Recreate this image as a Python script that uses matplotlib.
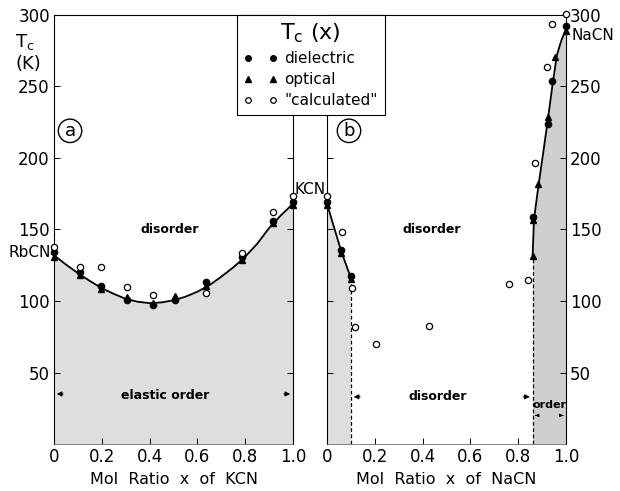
import matplotlib as mpl

mpl.use('Agg')
import matplotlib.pyplot as plt
from matplotlib.lines import Line2D

# ---- data ----
# panel (a): Rb(1-x)K(x)CN
kcn_x = [0.0, 0.107, 0.198, 0.307, 0.414, 0.505, 0.637, 0.787, 0.916, 1.0]
kcn_diel = [134, 120, 110.5, 100.5, 97, 101, 113, 130.5, 156, 169.5]
kcn_opt = [131, 118, 108.5, 103, 98.5, 103.5, 110.5, 129, 154.5, 167]
kcn_calc_x = [0.0, 0.107, 0.198, 0.307, 0.414, 0.637, 0.787, 0.916, 1.0]
kcn_calc = [137.5, 123.5, 123.5, 110, 104.5, 105.5, 133.5, 162, 173.5]
kcn_curve_x = [0.0, 0.05, 0.1, 0.15, 0.2, 0.25, 0.3, 0.35, 0.4, 0.45, 0.5,
               0.55, 0.6, 0.65, 0.7, 0.75, 0.8, 0.85, 0.9, 0.95, 1.0]
kcn_curve_y = [132, 125.5, 119.5, 114, 109, 105, 101.5, 99.5, 98.5, 99, 100.5,
               103, 106.5, 111, 117, 123.5, 131, 140, 151, 160, 168]

# panel (b): K(1-x)Na(x)CN
nacn_diel_x = [0.0, 0.06, 0.099, 0.864, 0.923, 0.943, 1.0]
nacn_diel = [169.5, 135.5, 117.5, 159, 223.5, 253.5, 292]
nacn_opt_x = [0.0, 0.06, 0.099, 0.862, 0.864, 0.884, 0.923, 0.954, 1.0]
nacn_opt = [167, 133.5, 115.5, 131.5, 156.5, 181.5, 229, 270.5, 289]
nacn_calc_x = [0.0, 0.063, 0.105, 0.116, 0.204, 0.425, 0.762, 0.84, 0.87, 0.919,
               0.943, 1.0]
nacn_calc = [173.5, 148, 109, 81.5, 70, 82.5, 112, 114.5, 196.5, 263.5, 293.5, 301]
low_curve_x = [0.0, 0.06, 0.099]
low_curve_y = [168, 134.5, 116.5]
high_curve_x = [0.86, 0.866, 0.885, 0.905, 0.925, 0.945, 0.962, 0.98, 1.0]
high_curve_y = [130, 157, 181, 204, 228, 253, 272, 282, 290]

xticks = [0, 0.2, 0.4, 0.6, 0.8, 1.0]
xticklabels = ['0', '0.2', '0.4', '0.6', '0.8', '1.0']
yticks = [50, 100, 150, 200, 250, 300]

W, H = 620, 491
fig = plt.figure(figsize=(W / 100, H / 100), dpi=100)
plt.rcParams['font.family'] = ['DejaVu Sans']


def px_box(x0, y0, x1, y1):
    return [x0 / W, 1 - y1 / H, (x1 - x0) / W, (y1 - y0) / H]


ax1 = fig.add_axes(px_box(54, 15, 293, 444))
ax2 = fig.add_axes(px_box(327, 15, 566, 444))

mk = dict(linestyle='none', color='black', clip_on=False, zorder=5)
for ax in (ax1, ax2):
    ax.set_xlim(0, 1.0)
    ax.set_ylim(0, 300)
    ax.set_xticks(xticks)
    ax.set_xticklabels(xticklabels, fontsize=12)
    ax.set_yticks(yticks)
    ax.set_yticklabels([str(v) for v in yticks], fontsize=12)
    ax.tick_params(direction='in', left=True, right=True, top=False,
                   length=4, width=0.7, pad=3)
    for s in ax.spines.values():
        s.set_linewidth(0.8)
    ax.spines['bottom'].set_linewidth(0.5)
    ax.spines['bottom'].set_color('#555555')

ax2.tick_params(labelleft=False, labelright=True)

# panel (a)
ax1.fill_between(kcn_curve_x, 0, kcn_curve_y, color='#dedede', lw=0)
ax1.plot(kcn_curve_x, kcn_curve_y, color='black', lw=1.3)
ax1.plot(kcn_x, kcn_diel, marker='o', ms=4.5, **mk)
ax1.plot(kcn_x, kcn_opt, marker='^', ms=4.5, **mk)
ax1.plot(kcn_calc_x, kcn_calc, marker='o', ms=4.5, mfc='white', mew=0.9, **mk)

ax1.text(0.485, 150, 'disorder', ha='center', va='center', fontsize=9,
         fontweight='bold')
ax1.text(0.467, 34, 'elastic order', ha='center', va='center', fontsize=9,
         fontweight='bold')
ax1.annotate('', xy=(0.0, 35), xytext=(0.05, 35),
             arrowprops=dict(arrowstyle='-|>', color='black', lw=0.8,
                             mutation_scale=7))
ax1.annotate('', xy=(1.0, 35), xytext=(0.95, 35),
             arrowprops=dict(arrowstyle='-|>', color='black', lw=0.8,
                             mutation_scale=7))
ax1.text(0.067, 219, 'a', ha='center', va='center', fontsize=13,
         bbox=dict(boxstyle='circle,pad=0.15', fc='white', ec='black', lw=1))
ax1.text(-0.015, 134, 'RbCN', ha='right', va='center', fontsize=11,
         clip_on=False)
ax1.set_xlabel('Mol  Ratio  x  of  KCN', fontsize=11.5, labelpad=4)

# panel (b)
ax2.fill_between(low_curve_x, 0, low_curve_y, color='#dedede', lw=0)
ax2.fill_between(high_curve_x, 0, high_curve_y, color='#cfcfcf', lw=0)
ax2.plot(low_curve_x, low_curve_y, color='black', lw=1.3)
ax2.plot(high_curve_x, high_curve_y, color='black', lw=1.3)
ax2.vlines([low_curve_x[-1], high_curve_x[0]], 0,
           [low_curve_y[-1], high_curve_y[0]], colors='black', lw=0.9,
           linestyles=(0, (3, 2)))
ax2.plot(nacn_diel_x, nacn_diel, marker='o', ms=4.5, **mk)
ax2.plot(nacn_opt_x, nacn_opt, marker='^', ms=4.5, **mk)
ax2.plot(nacn_calc_x, nacn_calc, marker='o', ms=4.5, mfc='white', mew=0.9,
         **mk)

ax2.text(0.44, 150, 'disorder', ha='center', va='center', fontsize=9,
         fontweight='bold')
ax2.text(0.465, 33, 'disorder', ha='center', va='center', fontsize=9,
         fontweight='bold')
ax2.text(0.93, 27, 'order', ha='center', va='center', fontsize=8,
         fontweight='bold')
ax2.annotate('', xy=(0.1, 33), xytext=(0.15, 33),
             arrowprops=dict(arrowstyle='-|>', color='black', lw=0.8,
                             mutation_scale=7))
ax2.annotate('', xy=(0.86, 33), xytext=(0.81, 33),
             arrowprops=dict(arrowstyle='-|>', color='black', lw=0.8,
                             mutation_scale=7))
ax2.annotate('', xy=(0.86, 20), xytext=(0.885, 20),
             arrowprops=dict(arrowstyle='-|>', color='black', lw=0.6,
                             mutation_scale=5))
ax2.annotate('', xy=(1.0, 20), xytext=(0.975, 20),
             arrowprops=dict(arrowstyle='-|>', color='black', lw=0.6,
                             mutation_scale=5))
ax2.text(0.092, 219, 'b', ha='center', va='center', fontsize=13,
         bbox=dict(boxstyle='circle,pad=0.15', fc='white', ec='black', lw=1))
ax2.text(-0.07, 178, 'KCN', ha='center', va='center', fontsize=11,
         clip_on=False)
ax2.text(1.025, 286, 'NaCN', ha='left', va='center', fontsize=11,
         clip_on=False)
ax2.set_xlabel('Mol  Ratio  x  of  NaCN', fontsize=11.5, labelpad=4)

fig.text(25 / W, 1 - 42 / H, r'$\mathregular{T_c}$', ha='center', va='center',
         fontsize=13)
fig.text(28 / W, 1 - 64 / H, '(K)', ha='center', va='center', fontsize=13)

handles = [
    Line2D([], [], marker='o', ms=4, color='black', linestyle='none'),
    Line2D([], [], marker='^', ms=4, color='black', linestyle='none'),
    Line2D([], [], marker='o', ms=4, mfc='white', mec='black', mew=0.9,
           linestyle='none'),
]
leg = fig.legend(handles, ['dielectric', 'optical', '"calculated"'],
                 loc='upper left', bbox_to_anchor=(237 / W, 1 - 15 / H),
                 numpoints=2, title=r'$\mathregular{T_c}$ (x)',
                 title_fontsize=16, fontsize=11, frameon=True, fancybox=False,
                 edgecolor='black', framealpha=1, borderpad=0.45,
                 labelspacing=0.38, handlelength=2.2, handletextpad=0.45,
                 borderaxespad=0)
leg.get_frame().set_linewidth(0.8)
leg.set_zorder(20)

plt.savefig('out.png', dpi=100)
